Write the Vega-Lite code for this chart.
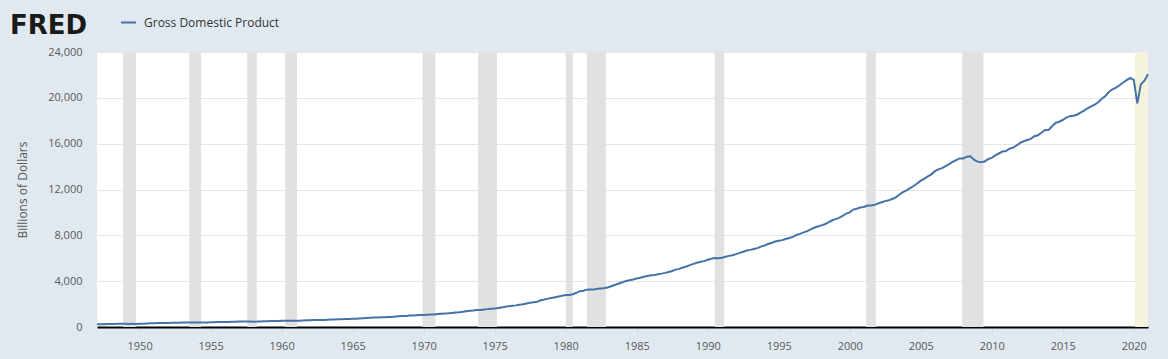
{
  "$schema": "https://vega.github.io/schema/vega-lite/v6.json",
  "width": 1051,
  "height": 275,
  "autosize": {"type": "none"},
  "padding": {"left": 97, "top": 52, "right": 20, "bottom": 32},
  "background": "#e1e9f0",
  "view": {"fill": "white", "stroke": null},
  "title": {"text": "FRED", "anchor": "start", "frame": "group", "dx": -87, "offset": -25, "fontSize": 26, "fontWeight": 900, "font": "DejaVu Sans", "color": "#1a1a1a"},
  "config": {
    "font": "Open Sans",
    "axis": {"labelFont": "Open Sans", "titleFont": "Open Sans"}
  },
  "datasets": {
    "rec": [
      {"start": "1948-11-01", "end": "1949-10-01", "kind": "nber"},
      {"start": "1953-07-01", "end": "1954-05-01", "kind": "nber"},
      {"start": "1957-08-01", "end": "1958-04-01", "kind": "nber"},
      {"start": "1960-04-01", "end": "1961-02-01", "kind": "nber"},
      {"start": "1969-12-01", "end": "1970-11-01", "kind": "nber"},
      {"start": "1973-11-01", "end": "1975-03-01", "kind": "nber"},
      {"start": "1980-01-01", "end": "1980-07-01", "kind": "nber"},
      {"start": "1981-07-01", "end": "1982-11-01", "kind": "nber"},
      {"start": "1990-07-01", "end": "1991-03-01", "kind": "nber"},
      {"start": "2001-03-01", "end": "2001-11-01", "kind": "nber"},
      {"start": "2007-12-01", "end": "2009-06-01", "kind": "nber"},
      {"start": "2020-02-01", "end": "2021-01-01", "kind": "prelim"}
    ],
    "gdp": [
      {"d":"1947-01-01","v":243.2},{"d":"1947-04-01","v":246.0},{"d":"1947-07-01","v":249.6},{"d":"1947-10-01","v":259.7},
      {"d":"1948-01-01","v":265.7},{"d":"1948-04-01","v":272.6},{"d":"1948-07-01","v":279.2},{"d":"1948-10-01","v":280.4},
      {"d":"1949-01-01","v":275.0},{"d":"1949-04-01","v":271.4},{"d":"1949-07-01","v":272.9},{"d":"1949-10-01","v":270.6},
      {"d":"1950-01-01","v":280.8},{"d":"1950-04-01","v":290.4},{"d":"1950-07-01","v":308.2},{"d":"1950-10-01","v":319.9},
      {"d":"1951-01-01","v":336.0},{"d":"1951-04-01","v":344.1},{"d":"1951-07-01","v":351.4},{"d":"1951-10-01","v":356.2},
      {"d":"1952-01-01","v":359.8},{"d":"1952-04-01","v":361.0},{"d":"1952-07-01","v":367.7},{"d":"1952-10-01","v":380.8},
      {"d":"1953-01-01","v":388.0},{"d":"1953-04-01","v":391.7},{"d":"1953-07-01","v":391.2},{"d":"1953-10-01","v":386.0},
      {"d":"1954-01-01","v":385.3},{"d":"1954-04-01","v":386.1},{"d":"1954-07-01","v":391.0},{"d":"1954-10-01","v":399.7},
      {"d":"1955-01-01","v":413.1},{"d":"1955-04-01","v":421.5},{"d":"1955-07-01","v":430.2},{"d":"1955-10-01","v":437.1},
      {"d":"1956-01-01","v":439.7},{"d":"1956-04-01","v":446.0},{"d":"1956-07-01","v":451.2},{"d":"1956-10-01","v":460.5},
      {"d":"1957-01-01","v":469.8},{"d":"1957-04-01","v":472.0},{"d":"1957-07-01","v":479.5},{"d":"1957-10-01","v":474.9},
      {"d":"1958-01-01","v":467.5},{"d":"1958-04-01","v":472.0},{"d":"1958-07-01","v":485.8},{"d":"1958-10-01","v":499.6},
      {"d":"1959-01-01","v":510.3},{"d":"1959-04-01","v":522.7},{"d":"1959-07-01","v":525.0},{"d":"1959-10-01","v":528.6},
      {"d":"1960-01-01","v":542.6},{"d":"1960-04-01","v":541.1},{"d":"1960-07-01","v":545.6},{"d":"1960-10-01","v":540.2},
      {"d":"1961-01-01","v":545.0},{"d":"1961-04-01","v":555.5},{"d":"1961-07-01","v":567.7},{"d":"1961-10-01","v":580.6},
      {"d":"1962-01-01","v":594.0},{"d":"1962-04-01","v":600.4},{"d":"1962-07-01","v":609.0},{"d":"1962-10-01","v":612.3},
      {"d":"1963-01-01","v":621.7},{"d":"1963-04-01","v":629.8},{"d":"1963-07-01","v":644.4},{"d":"1963-10-01","v":653.9},
      {"d":"1964-01-01","v":669.8},{"d":"1964-04-01","v":678.7},{"d":"1964-07-01","v":692.0},{"d":"1964-10-01","v":697.3},
      {"d":"1965-01-01","v":717.8},{"d":"1965-04-01","v":730.2},{"d":"1965-07-01","v":749.3},{"d":"1965-10-01","v":771.9},
      {"d":"1966-01-01","v":795.7},{"d":"1966-04-01","v":805.0},{"d":"1966-07-01","v":819.6},{"d":"1966-10-01","v":833.3},
      {"d":"1967-01-01","v":844.2},{"d":"1967-04-01","v":849.0},{"d":"1967-07-01","v":865.2},{"d":"1967-10-01","v":881.4},
      {"d":"1968-01-01","v":909.4},{"d":"1968-04-01","v":934.3},{"d":"1968-07-01","v":950.8},{"d":"1968-10-01","v":968.0},
      {"d":"1969-01-01","v":993.3},{"d":"1969-04-01","v":1009.0},{"d":"1969-07-01","v":1030.0},{"d":"1969-10-01","v":1038.1},
      {"d":"1970-01-01","v":1051.2},{"d":"1970-04-01","v":1067.4},{"d":"1970-07-01","v":1086.1},{"d":"1970-10-01","v":1088.6},
      {"d":"1971-01-01","v":1135.2},{"d":"1971-04-01","v":1156.3},{"d":"1971-07-01","v":1177.7},{"d":"1971-10-01","v":1190.3},
      {"d":"1972-01-01","v":1230.6},{"d":"1972-04-01","v":1266.4},{"d":"1972-07-01","v":1290.6},{"d":"1972-10-01","v":1328.9},
      {"d":"1973-01-01","v":1377.5},{"d":"1973-04-01","v":1413.9},{"d":"1973-07-01","v":1433.8},{"d":"1973-10-01","v":1476.3},
      {"d":"1974-01-01","v":1491.2},{"d":"1974-04-01","v":1530.1},{"d":"1974-07-01","v":1560.0},{"d":"1974-10-01","v":1599.7},
      {"d":"1975-01-01","v":1616.1},{"d":"1975-04-01","v":1651.9},{"d":"1975-07-01","v":1709.8},{"d":"1975-10-01","v":1761.8},
      {"d":"1976-01-01","v":1820.5},{"d":"1976-04-01","v":1852.3},{"d":"1976-07-01","v":1886.6},{"d":"1976-10-01","v":1934.3},
      {"d":"1977-01-01","v":1988.6},{"d":"1977-04-01","v":2055.9},{"d":"1977-07-01","v":2118.5},{"d":"1977-10-01","v":2164.3},
      {"d":"1978-01-01","v":2202.8},{"d":"1978-04-01","v":2331.6},{"d":"1978-07-01","v":2395.1},{"d":"1978-10-01","v":2476.9},
      {"d":"1979-01-01","v":2526.6},{"d":"1979-04-01","v":2591.2},{"d":"1979-07-01","v":2667.6},{"d":"1979-10-01","v":2723.9},
      {"d":"1980-01-01","v":2789.8},{"d":"1980-04-01","v":2797.4},{"d":"1980-07-01","v":2856.5},{"d":"1980-10-01","v":2985.6},
      {"d":"1981-01-01","v":3124.2},{"d":"1981-04-01","v":3162.5},{"d":"1981-07-01","v":3260.6},{"d":"1981-10-01","v":3280.8},
      {"d":"1982-01-01","v":3274.3},{"d":"1982-04-01","v":3332.0},{"d":"1982-07-01","v":3366.3},{"d":"1982-10-01","v":3402.6},
      {"d":"1983-01-01","v":3473.4},{"d":"1983-04-01","v":3578.8},{"d":"1983-07-01","v":3689.2},{"d":"1983-10-01","v":3794.7},
      {"d":"1984-01-01","v":3908.1},{"d":"1984-04-01","v":4009.6},{"d":"1984-07-01","v":4084.3},{"d":"1984-10-01","v":4148.6},
      {"d":"1985-01-01","v":4230.2},{"d":"1985-04-01","v":4294.9},{"d":"1985-07-01","v":4386.8},{"d":"1985-10-01","v":4444.1},
      {"d":"1986-01-01","v":4507.9},{"d":"1986-04-01","v":4545.3},{"d":"1986-07-01","v":4607.7},{"d":"1986-10-01","v":4657.6},
      {"d":"1987-01-01","v":4722.2},{"d":"1987-04-01","v":4806.2},{"d":"1987-07-01","v":4884.6},{"d":"1987-10-01","v":5008.0},
      {"d":"1988-01-01","v":5073.4},{"d":"1988-04-01","v":5190.0},{"d":"1988-07-01","v":5282.8},{"d":"1988-10-01","v":5399.5},
      {"d":"1989-01-01","v":5511.3},{"d":"1989-04-01","v":5612.5},{"d":"1989-07-01","v":5695.4},{"d":"1989-10-01","v":5747.2},
      {"d":"1990-01-01","v":5872.7},{"d":"1990-04-01","v":5960.0},{"d":"1990-07-01","v":6015.1},{"d":"1990-10-01","v":6004.7},
      {"d":"1991-01-01","v":6035.2},{"d":"1991-04-01","v":6126.9},{"d":"1991-07-01","v":6205.9},{"d":"1991-10-01","v":6264.5},
      {"d":"1992-01-01","v":6363.1},{"d":"1992-04-01","v":6470.8},{"d":"1992-07-01","v":6566.6},{"d":"1992-10-01","v":6680.8},
      {"d":"1993-01-01","v":6729.5},{"d":"1993-04-01","v":6808.9},{"d":"1993-07-01","v":6882.1},{"d":"1993-10-01","v":7013.7},
      {"d":"1994-01-01","v":7115.7},{"d":"1994-04-01","v":7246.9},{"d":"1994-07-01","v":7331.1},{"d":"1994-10-01","v":7455.3},
      {"d":"1995-01-01","v":7522.3},{"d":"1995-04-01","v":7581.0},{"d":"1995-07-01","v":7683.1},{"d":"1995-10-01","v":7772.6},
      {"d":"1996-01-01","v":7868.5},{"d":"1996-04-01","v":8032.8},{"d":"1996-07-01","v":8131.4},{"d":"1996-10-01","v":8259.8},
      {"d":"1997-01-01","v":8362.7},{"d":"1997-04-01","v":8518.8},{"d":"1997-07-01","v":8662.8},{"d":"1997-10-01","v":8765.9},
      {"d":"1998-01-01","v":8866.5},{"d":"1998-04-01","v":8969.7},{"d":"1998-07-01","v":9121.1},{"d":"1998-10-01","v":9294.0},
      {"d":"1999-01-01","v":9411.7},{"d":"1999-04-01","v":9526.2},{"d":"1999-07-01","v":9686.6},{"d":"1999-10-01","v":9900.2},
      {"d":"2000-01-01","v":10002.2},{"d":"2000-04-01","v":10247.7},{"d":"2000-07-01","v":10318.2},{"d":"2000-10-01","v":10435.7},
      {"d":"2001-01-01","v":10470.2},{"d":"2001-04-01","v":10599.0},{"d":"2001-07-01","v":10598.0},{"d":"2001-10-01","v":10660.5},
      {"d":"2002-01-01","v":10783.5},{"d":"2002-04-01","v":10887.5},{"d":"2002-07-01","v":10984.0},{"d":"2002-10-01","v":11061.4},
      {"d":"2003-01-01","v":11174.1},{"d":"2003-04-01","v":11312.8},{"d":"2003-07-01","v":11566.7},{"d":"2003-10-01","v":11772.2},
      {"d":"2004-01-01","v":11923.4},{"d":"2004-04-01","v":12112.8},{"d":"2004-07-01","v":12305.3},{"d":"2004-10-01","v":12527.2},
      {"d":"2005-01-01","v":12767.3},{"d":"2005-04-01","v":12922.7},{"d":"2005-07-01","v":13142.6},{"d":"2005-10-01","v":13324.2},
      {"d":"2006-01-01","v":13599.2},{"d":"2006-04-01","v":13753.4},{"d":"2006-07-01","v":13870.2},{"d":"2006-10-01","v":14039.6},
      {"d":"2007-01-01","v":14215.7},{"d":"2007-04-01","v":14402.1},{"d":"2007-07-01","v":14564.1},{"d":"2007-10-01","v":14715.1},
      {"d":"2008-01-01","v":14706.5},{"d":"2008-04-01","v":14865.7},{"d":"2008-07-01","v":14899.0},{"d":"2008-10-01","v":14608.2},
      {"d":"2009-01-01","v":14430.9},{"d":"2009-04-01","v":14381.2},{"d":"2009-07-01","v":14448.9},{"d":"2009-10-01","v":14651.2},
      {"d":"2010-01-01","v":14764.6},{"d":"2010-04-01","v":14980.2},{"d":"2010-07-01","v":15141.6},{"d":"2010-10-01","v":15309.5},
      {"d":"2011-01-01","v":15351.4},{"d":"2011-04-01","v":15557.5},{"d":"2011-07-01","v":15647.7},{"d":"2011-10-01","v":15842.3},
      {"d":"2012-01-01","v":16068.8},{"d":"2012-04-01","v":16207.1},{"d":"2012-07-01","v":16319.5},{"d":"2012-10-01","v":16420.4},
      {"d":"2013-01-01","v":16648.2},{"d":"2013-04-01","v":16728.7},{"d":"2013-07-01","v":16953.8},{"d":"2013-10-01","v":17192.0},
      {"d":"2014-01-01","v":17197.7},{"d":"2014-04-01","v":17518.5},{"d":"2014-07-01","v":17804.2},{"d":"2014-10-01","v":17912.1},
      {"d":"2015-01-01","v":18063.5},{"d":"2015-04-01","v":18279.8},{"d":"2015-07-01","v":18401.6},{"d":"2015-10-01","v":18435.1},
      {"d":"2016-01-01","v":18525.9},{"d":"2016-04-01","v":18711.7},{"d":"2016-07-01","v":18892.6},{"d":"2016-10-01","v":19089.4},
      {"d":"2017-01-01","v":19254.0},{"d":"2017-04-01","v":19406.0},{"d":"2017-07-01","v":19615.0},{"d":"2017-10-01","v":19918.0},
      {"d":"2018-01-01","v":20164.0},{"d":"2018-04-01","v":20510.0},{"d":"2018-07-01","v":20749.0},{"d":"2018-10-01","v":20897.0},
      {"d":"2019-01-01","v":21099.0},{"d":"2019-04-01","v":21340.0},{"d":"2019-07-01","v":21542.0},{"d":"2019-10-01","v":21729.0},
      {"d":"2020-01-01","v":21561.0},{"d":"2020-04-01","v":19520.0},{"d":"2020-07-01","v":21170.0},{"d":"2020-10-01","v":21494.0},
      {"d":"2021-01-01","v":22061.0}
    ]
  },
  "layer": [
    {
      "data": {"name": "rec"},
      "mark": {"type": "rect"},
      "encoding": {
        "x": {"field": "start", "type": "temporal"},
        "x2": {"field": "end"},
        "fill": {"field": "kind", "type": "nominal", "scale": {"domain": ["nber", "prelim"], "range": ["#e1e1e1", "#f5f3dc"]}, "legend": null}
      }
    },
    {
      "data": {"name": "gdp"},
      "mark": {"type": "line", "strokeWidth": 2},
      "encoding": {
        "x": {
          "field": "d", "type": "temporal",
          "scale": {"type": "utc", "domain": [{"year": 1947, "month": 1, "date": 1, "utc": true}, {"year": 2021, "month": 1, "date": 1, "utc": true}], "nice": false},
          "axis": {
            "title": null, "format": "%Y", "grid": false,
            "values": [{"year":1950,"utc":true},{"year":1955,"utc":true},{"year":1960,"utc":true},{"year":1965,"utc":true},{"year":1970,"utc":true},{"year":1975,"utc":true},{"year":1980,"utc":true},{"year":1985,"utc":true},{"year":1990,"utc":true},{"year":1995,"utc":true},{"year":2000,"utc":true},{"year":2005,"utc":true},{"year":2010,"utc":true},{"year":2015,"utc":true},{"year":2020,"utc":true}],
            "domainColor": "#000000", "domainWidth": 2,
            "tickColor": "#d9d9d9", "tickSize": 6,
            "labelFontSize": 11, "labelColor": "#595959", "labelPadding": 7, "labelFlush": false
          }
        },
        "y": {
          "field": "v", "type": "quantitative",
          "scale": {"domain": [0, 24000], "nice": false},
          "axis": {
            "title": "Billions of Dollars", "titleFontSize": 12, "titleFontWeight": "normal", "titleColor": "#595959", "titlePadding": 18,
            "values": [0, 4000, 8000, 12000, 16000, 20000, 24000], "format": ",.0f",
            "grid": true, "gridColor": "#e6e6e6", "domain": false, "ticks": false,
            "labelFontSize": 11, "labelColor": "#595959", "labelPadding": 15
          }
        },
        "color": {
          "datum": "Gross Domestic Product", "type": "nominal",
          "scale": {"domain": ["Gross Domestic Product"], "range": ["#4572a7"]},
          "legend": {"title": null, "orient": "none", "legendX": 23, "legendY": -38, "padding": 0, "symbolType": "stroke", "symbolSize": 225, "symbolStrokeWidth": 2, "labelFontSize": 12, "labelColor": "#333333", "labelFont": "Open Sans", "labelOffset": 7}
        }
      }
    }
  ]
}
